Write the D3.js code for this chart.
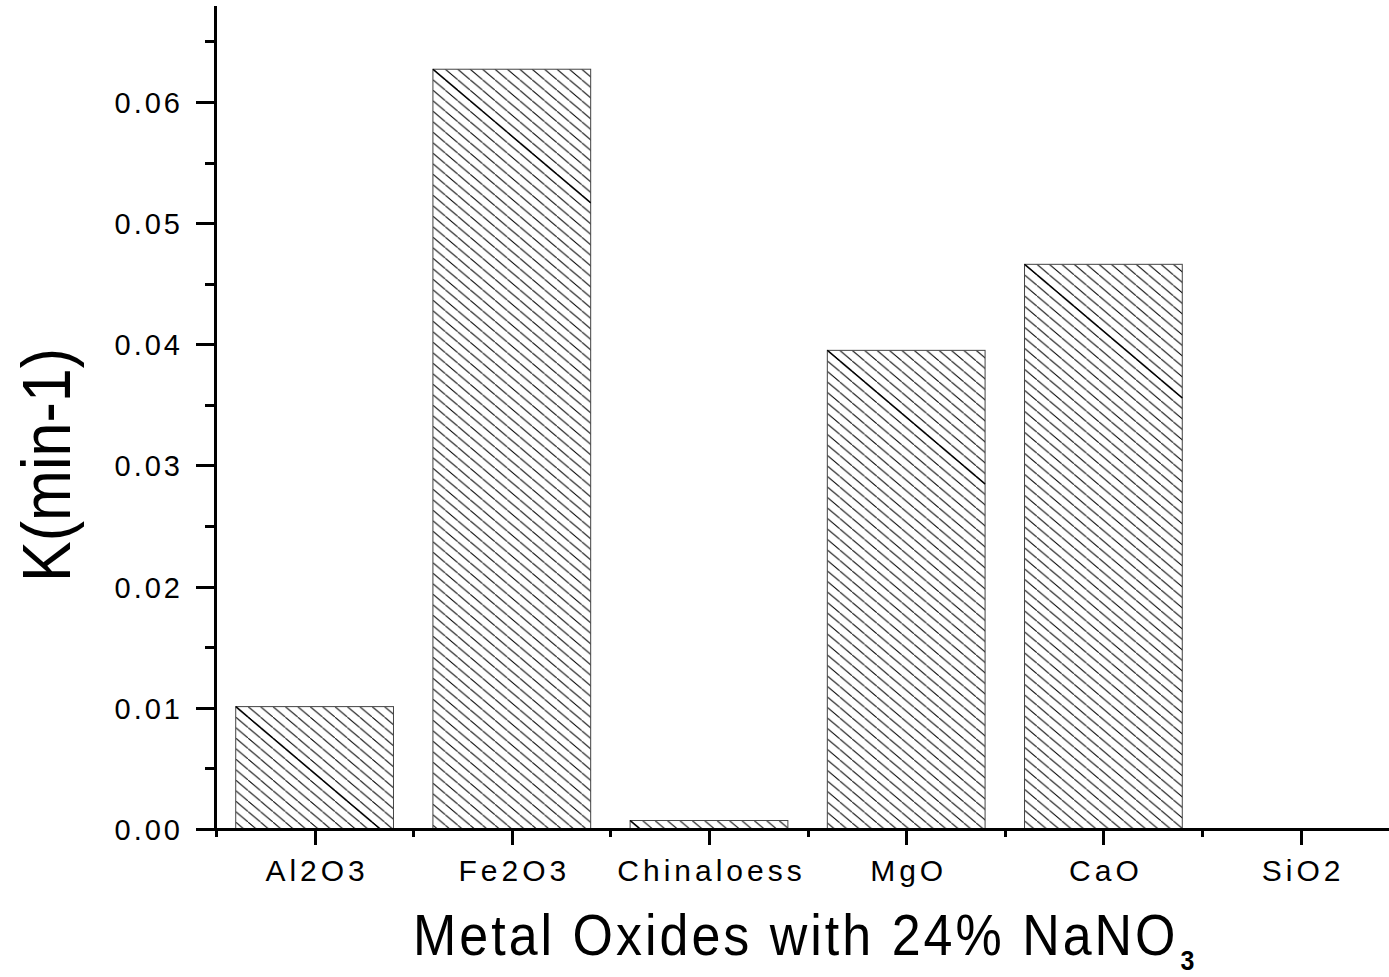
<!DOCTYPE html>
<html>
<head>
<meta charset="utf-8">
<script src="https://cdn.jsdelivr.net/npm/d3@7"></script>
<style>
  body { margin: 0; background: #fff; }
  text { font-family: "Liberation Sans", Arial, sans-serif; fill: #000; }
</style>
</head>
<body>
<script>
// values
var oxides = ["Al2O3", "Fe2O3", "Chinaloess", "MgO", "CaO", "SiO2"];
var kValues = [0.0101, 0.0627, 0.0007, 0.0395, 0.0466, 0.0];
var yTicks = [0.00, 0.01, 0.02, 0.03, 0.04, 0.05, 0.06];
var yMinorTicks = [0.005, 0.015, 0.025, 0.035, 0.045, 0.055, 0.065];

var width = 1389, height = 977;
var svg = d3.select("body").append("svg")
    .attr("width", width)
    .attr("height", height);

// scales
var x = d3.scaleLinear().domain([0.5, 6.5]).range([216, 216 + 6 * 197.2]);
var y = d3.scaleLinear().domain([0, 0.068]).range([829, 5]);
var barW = 0.8 * (x(2) - x(1));

// hatch pattern
var defs = svg.append("defs");
var hatch = defs.append("pattern")
    .attr("id", "hatch")
    .attr("patternUnits", "userSpaceOnUse")
    .attr("width", 12.4)
    .attr("height", 10.5);
hatch.append("rect").attr("width", 12.4).attr("height", 10.5).attr("fill", "#fff");
hatch.append("path")
    .attr("d", "M-12.4,-10.5L24.8,21")
    .attr("stroke", "#000")
    .attr("stroke-width", 1);

// bars
var bars = svg.append("g").attr("class", "bars")
    .selectAll("g")
    .data(kValues.map(function(v, i) { return {name: oxides[i], value: v, pos: i + 1}; }))
    .enter().append("g")
        .attr("transform", function(d) { return "translate(" + (x(d.pos) - barW / 2) + "," + y(d.value) + ")"; });

bars.filter(function(d) { return d.value > 0; })
    .append("rect")
        .attr("width", barW)
        .attr("height", function(d) { return y(0) - y(d.value); })
        .attr("fill", "url(#hatch)")
        .attr("stroke", "#444")
        .attr("stroke-width", 1);

// darker diagonal line from the top-left corner
bars.filter(function(d) { return d.value > 0; })
    .append("line")
        .attr("x1", 0).attr("y1", 0)
        .attr("x2", function(d) { var h = y(0) - y(d.value); return Math.min(barW, h / 0.847); })
        .attr("y2", function(d) { var h = y(0) - y(d.value); return Math.min(h, barW * 0.847); })
        .attr("stroke", "#000")
        .attr("stroke-width", 1.3);

// y axis
var yAxis = svg.append("g")
    .attr("transform", "translate(215,0)")
    .call(d3.axisLeft(y).tickValues(yTicks).tickSize(19).tickSizeOuter(0).tickPadding(16)
        .tickFormat(d3.format(".2f")));
svg.append("g")
    .attr("transform", "translate(215,0)")
    .call(d3.axisLeft(y).tickValues(yMinorTicks).tickSize(10).tickSizeOuter(0).tickFormat(""));

// x axis
var xAxis = svg.append("g")
    .attr("transform", "translate(0,829)")
    .call(d3.axisBottom(x).tickValues([1, 2, 3, 4, 5, 6]).tickSize(16).tickSizeOuter(0)
        .tickFormat(function(d) { return oxides[d - 1]; }));
svg.append("g")
    .attr("transform", "translate(0,829)")
    .call(d3.axisBottom(x).tickValues([0.5, 1.5, 2.5, 3.5, 4.5, 5.5, 6.5]).tickSize(8).tickSizeOuter(0).tickFormat(""));

svg.selectAll(".domain, .tick line")
    .attr("stroke", "#000")
    .attr("stroke-width", 3)
    .attr("shape-rendering", "crispEdges");

yAxis.selectAll(".tick text")
    .attr("font-size", 29)
    .attr("letter-spacing", 3)
    .attr("font-family", "Liberation Sans, Arial, sans-serif")
    .attr("x", -32)
    .attr("dy", "0.36em");

xAxis.selectAll(".tick text")
    .attr("font-size", 30)
    .attr("letter-spacing", 4)
    .attr("font-family", "Liberation Sans, Arial, sans-serif")
    .attr("dx", 2)
    .attr("y", 31)
    .attr("dy", "0.71em");

// axis titles
svg.append("text")
    .attr("transform", "translate(70,465) rotate(-90)")
    .attr("text-anchor", "middle")
    .attr("font-size", 68)
    .attr("textLength", 234)
    .attr("lengthAdjust", "spacingAndGlyphs")
    .text("K(min-1)");

var title = svg.append("text")
    .attr("transform", "translate(413,955) scale(1,1.12)")
    .attr("font-size", 52)
    .attr("letter-spacing", 3);
title.append("tspan").text("Metal Oxides with 24% NaNO");
title.append("tspan")
    .attr("font-size", 25)
    .attr("font-weight", "bold")
    .attr("dx", 2)
    .attr("dy", 13)
    .text("3");
</script>
</body>
</html>
